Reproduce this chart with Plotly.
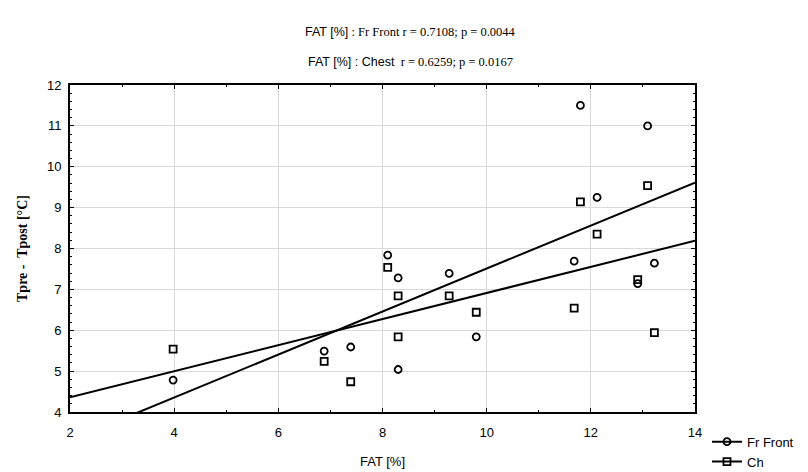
import numpy as np
import plotly.graph_objects as go

fat = [3.98, 6.88, 7.39, 8.10, 8.30, 8.30, 9.28, 9.80, 11.68, 11.80, 12.12, 12.90, 13.09, 13.22]
fr_front = [4.78, 5.49, 5.59, 7.84, 7.28, 5.04, 7.39, 5.84, 7.69, 11.50, 9.25, 7.14, 11.00, 7.64]
chest = [5.54, 5.24, 4.74, 7.54, 6.84, 5.84, 6.84, 6.44, 6.54, 9.14, 8.35, 7.24, 9.54, 5.94]
series_names = ["Fr Front", "Ch"]
symbols = ["circle-open", "square-open"]
x_range = [2, 14]
y_range = [4, 12]

SANS = "Liberation Sans, Arial, sans-serif"
SERIF = "Liberation Serif, Times New Roman, serif"

fig = go.Figure()
xs = np.array(fat)
xl = np.linspace(x_range[0], x_range[1], 50)
for name, ys, sym in zip(series_names, [fr_front, chest], symbols):
    k, b = np.polyfit(xs, np.array(ys), 1)
    fig.add_trace(go.Scatter(x=xl, y=k * xl + b, mode="lines",
                             line=dict(color="black", width=2), showlegend=False,
                             hoverinfo="skip"))
    fig.add_trace(go.Scatter(x=fat, y=ys, mode="markers", showlegend=False,
                             marker=dict(symbol=sym, size=7, color="black",
                                         line=dict(width=1.8, color="black"))))
    fig.add_trace(go.Scatter(x=[None], y=[None], mode="lines+markers", name=name,
                             line=dict(color="black", width=2),
                             marker=dict(symbol=sym, size=7, color="black",
                                         line=dict(width=1.8, color="black"))))

fig.update_layout(
    width=808, height=472,
    margin=dict(l=70, r=113, t=85, b=60, autoexpand=False),
    paper_bgcolor="white", plot_bgcolor="white",
    font=dict(family=SANS, size=13, color="black"),
    showlegend=True,
    legend=dict(xref="container", yref="container", x=0.875, y=0.096,
                xanchor="left", yanchor="top",
                bgcolor="rgba(0,0,0,0)", font=dict(family=SANS, size=13),
                itemwidth=30, tracegroupgap=0),
)
axis_common = dict(showline=True, linecolor="black", linewidth=2, mirror="allticks",
                   ticks="inside", ticklen=4, tickcolor="black", tickwidth=1,
                   showgrid=True, gridcolor="#d9d9d9", gridwidth=1, zeroline=False,
                   tickfont=dict(family=SANS, size=13))
fig.update_xaxes(range=x_range, dtick=2, tick0=2, ticklabelstandoff=7,
                 minor=dict(ticks="inside", dtick=1, ticklen=2, tickcolor="black", showgrid=False),
                 title=dict(text="FAT [%]", font=dict(family=SANS, size=13), standoff=18),
                 **axis_common)
fig.update_yaxes(range=y_range, dtick=1, ticklabelstandoff=4,
                 minor=dict(ticks="inside", dtick=0.2, ticklen=2, tickcolor="black", showgrid=False),
                 title=dict(text="<b>Tpre -  Tpost [°C]</b>", font=dict(family=SERIF, size=14), standoff=16),
                 **axis_common)

fig.add_annotation(xref="paper", yref="paper", x=0.545, y=1, yshift=53, showarrow=False,
                   xanchor="center", yanchor="middle",
                   text=f"<span style='font-family:{SANS}'>FAT [%]</span>"
                        f"<span style='font-family:{SERIF}'> : Fr Front r = 0.7108; p = 0.0044</span>",
                   font=dict(size=12.5, family=SERIF))
fig.add_annotation(xref="paper", yref="paper", x=0.545, y=1, yshift=23, showarrow=False,
                   xanchor="center", yanchor="middle",
                   text=f"<span style='font-family:{SANS}'>FAT [%] : Chest</span>"
                        f"<span style='font-family:{SERIF}'>  r = 0.6259; p = 0.0167</span>",
                   font=dict(size=12.5, family=SERIF))

fig.write_html("out.html")
